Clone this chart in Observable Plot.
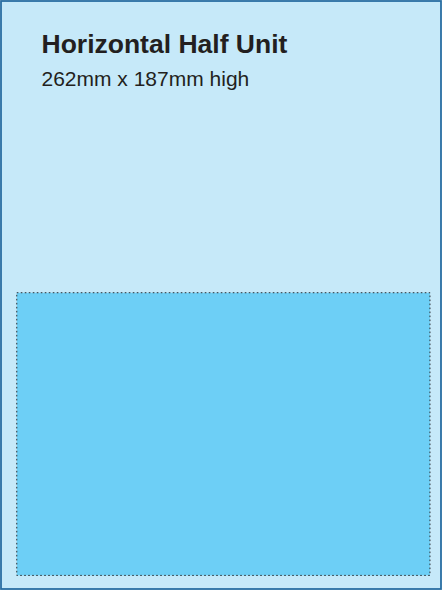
<!DOCTYPE html>
<html>
<head>
<meta charset="utf-8">
<script src="https://cdn.jsdelivr.net/npm/d3@7"></script>
<script src="https://cdn.jsdelivr.net/npm/@observablehq/plot@0.6"></script>
<style>
  html, body { margin: 0; padding: 0; background: #ffffff; }
  svg { display: block; }
</style>
</head>
<body>
<div id="chart"></div>
<script>
// Page (mm) and the ad unit placed on it (mm)
const pageRect = [{x1: 0, x2: 279, y1: 0, y2: 389}];
const unitRect = [{x1: 10, x2: 272, y1: 193, y2: 380}];
const titleText = ["Horizontal Half Unit"];
const subtitleText = ["262mm x 187mm high"];

const font = "'Liberation Sans', Arial, Helvetica, sans-serif";

const chart = Plot.plot({
  width: 442,
  height: 591,
  margin: 0,
  style: {background: "#ffffff", fontFamily: font},
  x: {domain: [0, 279], range: [1, 441], axis: null},
  y: {domain: [0, 389], range: [1, 589], axis: null},
  marks: [
    Plot.rect(pageRect, {x1: "x1", x2: "x2", y1: "y1", y2: "y2",
      fill: "#c6e9f9", stroke: "#286ea2", strokeWidth: 1.8}),
    Plot.rect(unitRect, {x1: "x1", x2: "x2", y1: "y1", y2: "y2",
      fill: "#6dcff6", stroke: "#2a2f35", strokeWidth: 1, strokeDasharray: "1.6,2.4"}),
    Plot.text(titleText, {text: d => d, frameAnchor: "top-left", dx: 41, dy: 52,
      textAnchor: "start", lineAnchor: "bottom", fontSize: 26.5, fontWeight: "bold",
      fill: "#231f20", fontFamily: font}),
    Plot.text(subtitleText, {text: d => d, frameAnchor: "top-left", dx: 41, dy: 85,
      textAnchor: "start", lineAnchor: "bottom", fontSize: 21,
      fill: "#231f20", fontFamily: font})
  ]
});
document.getElementById("chart").appendChild(chart);
</script>
</body>
</html>
